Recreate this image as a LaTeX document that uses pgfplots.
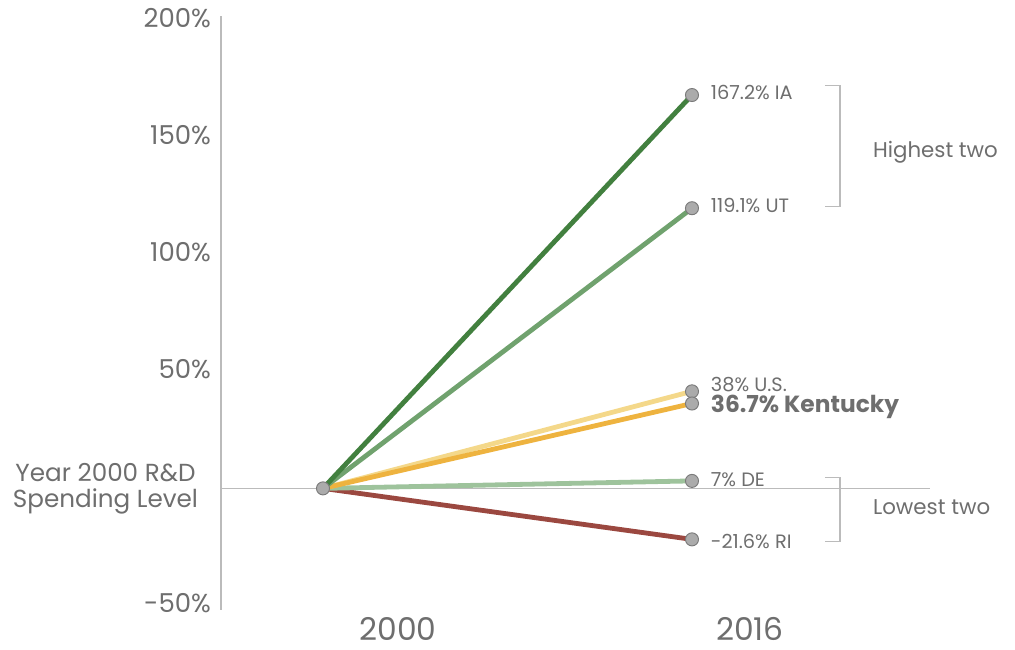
\documentclass[border=0pt]{standalone}
\usepackage{pgfplots}
\pgfplotsset{compat=1.18}
\usepackage{fontspec}
\setmainfont{Poppins}
\definecolor{txt}{HTML}{6E6E6E}
\definecolor{axgray}{HTML}{BBBBBB}
\definecolor{cIA}{HTML}{42803F}
\definecolor{cUT}{HTML}{70A26E}
\definecolor{cUS}{HTML}{F4D88A}
\definecolor{cKY}{HTML}{EEB33F}
\definecolor{cDE}{HTML}{9EC39C}
\definecolor{cRI}{HTML}{9B4840}
\definecolor{mk}{HTML}{ABABAB}
\definecolor{mkedge}{HTML}{7A7A7A}
\begin{document}
\begin{tikzpicture}
\path[use as bounding box] (-165.75pt,-30pt) rectangle (595.5pt,457.5pt);
\begin{axis}[
  at={(0,0)}, anchor=south west,
  scale only axis, width=531.75pt, height=445.5pt,
  xmin=-0.2764, xmax=1.645, ymin=-52, ymax=202,
  axis line style={draw=none}, tick style={draw=none},
  clip=false,
  ytick={-50,0,50,100,150,200},
  yticklabels={-50\%,,50\%,100\%,150\%,200\%},
  yticklabel style={font=\fontsize{19.5}{22}\selectfont, text=txt, xshift=-4pt, yshift=2pt},
  xtick={0.203,1.157},
  xticklabels={2000,2016},
  xticklabel style={font=\fontsize{23.5}{26}\selectfont, text=txt, yshift=-2pt},
  /pgf/number format/assume math mode=true,
]
\draw[axgray, line width=1.5pt] (axis cs:-0.2764,-52) -- (axis cs:-0.2764,202);
\draw[axgray, line width=1.2pt] (axis cs:-0.2764,0) -- (axis cs:1.645,0);
% brackets
\draw[axgray, line width=1pt] (axis cs:1.3604,172.2) -- (axis cs:1.401,172.2) -- (axis cs:1.401,120.5) -- (axis cs:1.3604,120.5);
\draw[axgray, line width=1pt] (axis cs:1.3604,4.7) -- (axis cs:1.401,4.7) -- (axis cs:1.401,-22.6) -- (axis cs:1.3604,-22.6);
\node[anchor=west, inner sep=0, text=txt, font=\fontsize{16}{18}\selectfont] at (axis cs:1.49,143.6) {Highest two};
\node[anchor=west, inner sep=0, text=txt, font=\fontsize{16}{18}\selectfont] at (axis cs:1.49,-8.1) {Lowest two};
\node[anchor=east, inner sep=0, align=center, text=txt, font=\fontsize{18.5}{19.5}\selectfont] at (axis cs:-0.2764,0) [xshift=-17pt] {Year 2000 R\&D\\Spending Level};
% lines
\addplot[cRI, line width=3.6pt] coordinates {(0,0) (1,-21.8)};
\addplot[cDE, line width=3.6pt] coordinates {(0,0) (1,3.2)};
\addplot[cUS, line width=3.6pt] coordinates {(0,0) (1,41.5)};
\addplot[cKY, line width=3.6pt] coordinates {(0,0) (1,36.3)};
\addplot[cUT, line width=3.6pt] coordinates {(0,0) (1,119.8)};
\addplot[cIA, line width=3.6pt] coordinates {(0,0) (1,168.2)};
\addplot[only marks, mark=*, mark size=4.9pt, mark options={fill=mk, draw=mkedge, line width=0.7pt}]
  coordinates {(0,0) (1,168.2) (1,119.8) (1,41.5) (1,36.3) (1,3.2) (1,-21.8)};
% labels
\begin{scope}[every node/.style={anchor=west, inner sep=0, text=txt, font=\fontsize{14.5}{16}\selectfont}]
\node at (axis cs:1,169.5) [xshift=14pt] {167.2\% IA};
\node at (axis cs:1,121) [xshift=14pt] {119.1\% UT};
\node at (axis cs:1,44.5) [xshift=14pt] {38\% U.S.};
\node at (axis cs:1,35.0) [xshift=14pt, font=\fontsize{17.5}{19}\selectfont\bfseries] {36.7\% Kentucky};
\node at (axis cs:1,3.8) [xshift=14pt] {7\% DE};
\node at (axis cs:1,-22.6) [xshift=14pt] {-21.6\% RI};
\end{scope}
\end{axis}
\end{tikzpicture}
\end{document}
